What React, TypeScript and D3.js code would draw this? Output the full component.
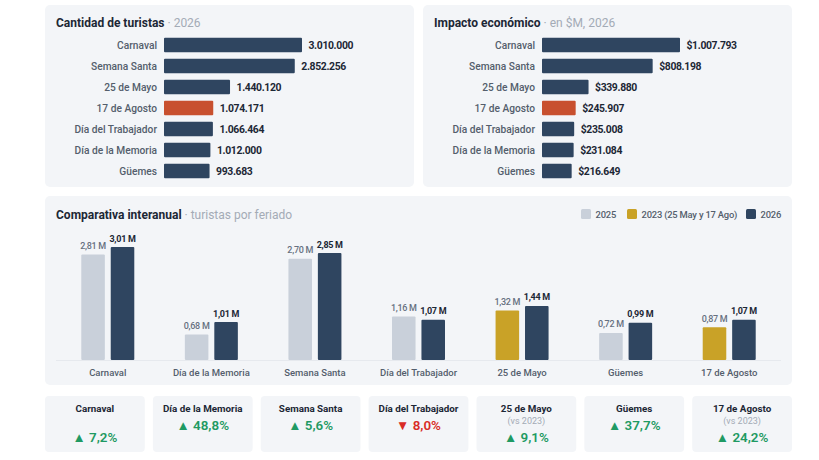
import * as d3 from 'd3';

const rankCategories = ['Carnaval', 'Semana Santa', '25 de Mayo', '17 de Agosto', 'Día del Trabajador', 'Día de la Memoria', 'Güemes'];
const tourists = [3010000, 2852256, 1440120, 1074171, 1066464, 1012000, 993683];
const impact = [1007793, 808198, 339880, 245907, 235008, 231084, 216649];

const yoyCategories = ['Carnaval', 'Día de la Memoria', 'Semana Santa', 'Día del Trabajador', '25 de Mayo', 'Güemes', '17 de Agosto'];
const previous = [2.81, 0.68, 2.7, 1.16, 1.32, 0.72, 0.87];
const previousYear = ['2025', '2025', '2025', '2025', '2023', '2025', '2023'];
const current = [3.01, 1.01, 2.85, 1.07, 1.44, 0.99, 1.07];

const deltas = [7.2, 48.8, 5.6, -8.0, 9.1, 37.7, 24.2];
const deltaNotes = ['', '', '', '', '(vs 2023)', '', '(vs 2023)'];

const legendLabels = ['2025', '2023 (25 May y 17 Ago)', '2026'];

const FONT = 'Roboto, "Noto Sans", sans-serif';
const INK = '#1c2735';
const MUTED = '#a3abb6';
const LABEL = '#545e6c';
const CARD = '#f3f5f8';
const NAVY = '#2f4560';
const ORANGE = '#c8502f';
const SILVER = '#c9d0da';
const GOLD = '#c9a227';
const GREEN = '#1f9a63';
const RED = '#d92c26';

const legendColors = [SILVER, GOLD, NAVY];
const legendX = [581, 627, 746];

const locale = d3.formatLocale({ decimal: ',', thousands: '.', grouping: [3], currency: ['$', ''] });
const fmtInt = locale.format(',d');
const fmtMoney = locale.format('$,d');
const fmtM = locale.format('.2f');
const fmtPct = locale.format('.1f');

interface RankProps {
  x: number;
  title: string;
  sub: string;
  values: number[];
  format: (v: number) => string;
}

const RankCard = ({ x, title, sub, values, format }: RankProps) => {
  const barX = x + 119;
  const xScale = d3.scaleLinear().domain([0, d3.max(values) as number]).range([0, 138]);
  const yScale = d3.scaleBand().domain(rankCategories).range([34.5, 181.5]).paddingInner(0.31).paddingOuter(0.155);
  return (
    <g>
      <rect x={x} y={5} width={369} height={182} rx={5} fill={CARD} />
      <text x={x + 11} y={27} fontSize={12} fontWeight={700} fill={INK}>
        {title}
        <tspan fontWeight={400} fill={MUTED}>{sub}</tspan>
      </text>
      {rankCategories.map((c, i) => {
        const y = yScale(c) as number;
        const mid = y + yScale.bandwidth() / 2;
        return (
          <g key={c}>
            <text x={barX - 7} y={mid + 3.6} textAnchor="end" fontSize={10.2} fontWeight={500} fill={LABEL}>{c}</text>
            <rect x={barX} y={y} width={xScale(values[i])} height={yScale.bandwidth()} rx={1} fill={c === '17 de Agosto' ? ORANGE : NAVY} />
            <text x={barX + xScale(values[i]) + 6.5} y={mid + 3.8} fontSize={10.4} fontWeight={700} letterSpacing={-0.35} fill={INK}>{format(values[i])}</text>
          </g>
        );
      })}
    </g>
  );
};

const YoyCard = () => {
  const baseline = 360;
  const x0 = d3.scaleBand().domain(yoyCategories).range([56, 781]);
  const x1 = d3.scaleBand().domain(['prev', 'cur']).range([-26.5, 26.5]).paddingInner(0.2);
  const y = d3.scaleLinear().domain([0, 3.01]).range([baseline, 247]);
  return (
    <g>
      <rect x={45} y={196} width={747} height={189} rx={5} fill={CARD} />
      <text x={56} y={219} fontSize={12} fontWeight={700} fill={INK}>
        Comparativa interanual
        <tspan fontWeight={400} fill={MUTED}> · turistas por feriado</tspan>
      </text>
      {legendLabels.map((l, i) => (
        <g key={l}>
          <rect x={legendX[i]} y={209} width={10} height={10} rx={1.5} fill={legendColors[i]} />
          <text x={legendX[i] + 14.5} y={218} fontSize={9.4} fontWeight={500} letterSpacing={-0.2} fill={LABEL}>{l}</text>
        </g>
      ))}
      <line x1={56} x2={781} y1={baseline + 0.5} y2={baseline + 0.5} stroke="#e6e9ee" />
      {yoyCategories.map((c, i) => {
        const center = (x0(c) as number) + x0.bandwidth() / 2;
        const px = center + (x1('prev') as number);
        const cx = center + (x1('cur') as number);
        const w = x1.bandwidth();
        return (
          <g key={c}>
            <rect x={px} y={y(previous[i])} width={w} height={baseline - y(previous[i])} rx={1} fill={previousYear[i] === '2023' ? GOLD : SILVER} />
            <rect x={cx} y={y(current[i])} width={w} height={baseline - y(current[i])} rx={1} fill={NAVY} />
            <text x={px + w / 2} y={y(previous[i]) - 5.5} textAnchor="middle" fontSize={9} fontWeight={500} letterSpacing={-0.3} fill="#667080">{fmtM(previous[i])} M</text>
            <text x={cx + w / 2} y={y(current[i]) - 5.5} textAnchor="middle" fontSize={9} fontWeight={700} letterSpacing={-0.3} fill={INK}>{fmtM(current[i])} M</text>
            <text x={center} y={376} textAnchor="middle" fontSize={9.5} fontWeight={500} fill={LABEL}>{c}</text>
          </g>
        );
      })}
    </g>
  );
};

const KpiRow = () => {
  const x = d3.scaleBand().domain(yoyCategories).range([45, 792]).paddingInner(0.075);
  return (
    <g>
      {yoyCategories.map((c, i) => {
        const left = x(c) as number;
        const mid = left + x.bandwidth() / 2;
        const up = deltas[i] >= 0;
        // Carnaval sits lower in the original, same as the cards with a note
        const low = deltaNotes[i] !== '' || i === 0;
        return (
          <g key={c}>
            <rect x={left} y={396} width={x.bandwidth()} height={56} rx={4} fill={CARD} />
            <text x={mid} y={412} textAnchor="middle" fontSize={9.8} fontWeight={700} fill={INK}>{c}</text>
            {deltaNotes[i] && <text x={mid} y={423.5} textAnchor="middle" fontSize={9} fill={MUTED}>{deltaNotes[i]}</text>}
            <text x={mid} y={low ? 442 : 430} textAnchor="middle" fontSize={13.4} fontWeight={600} fill={up ? GREEN : RED}>
              {up ? '▲' : '▼'} {fmtPct(Math.abs(deltas[i]))}%
            </text>
          </g>
        );
      })}
    </g>
  );
};

export default function App() {
  return (
    <svg width={819} height={460} style={{ position: 'absolute', left: 0, top: 0, background: '#fff' }} fontFamily={FONT}>
      <RankCard x={45} title="Cantidad de turistas" sub=" · 2026" values={tourists} format={fmtInt} />
      <RankCard x={423} title="Impacto económico" sub=" · en $M, 2026" values={impact} format={fmtMoney} />
      <YoyCard />
      <KpiRow />
    </svg>
  );
}
